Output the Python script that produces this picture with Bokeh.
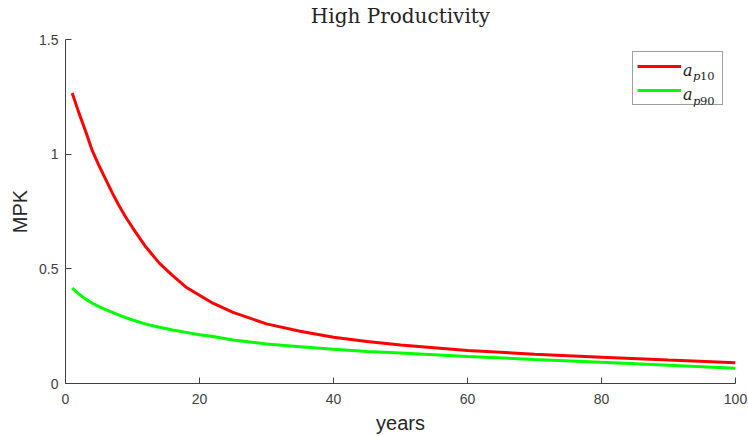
from bokeh.plotting import figure
from bokeh.models import Range1d, FixedTicker, Legend, LegendItem, Label, Title
from bokeh.embed import file_html
from bokeh.resources import INLINE

years = [1, 2, 3, 4, 5, 6, 7, 8, 9, 10, 12, 14, 16, 18, 20, 22, 25, 30, 35, 40,
         45, 50, 60, 70, 80, 90, 100]
mpk_p10 = [1.267, 1.18, 1.10, 1.015, 0.95, 0.89, 0.83, 0.775, 0.725, 0.68, 0.595,
           0.525, 0.47, 0.42, 0.385, 0.35, 0.31, 0.26, 0.228, 0.202,
           0.183, 0.168, 0.144, 0.128, 0.115, 0.102, 0.090]
mpk_p90 = [0.416, 0.39, 0.368, 0.35, 0.335, 0.322, 0.31, 0.298, 0.287, 0.277, 0.259,
           0.245, 0.233, 0.223, 0.213, 0.205, 0.19, 0.172, 0.16, 0.149,
           0.140, 0.133, 0.118, 0.105, 0.093, 0.080, 0.067]

x_ticks = [0, 20, 40, 60, 80, 100]
y_ticks = [0, 0.5, 1, 1.5]
y_tick_labels = ["0", "0.5", "1", "1.5"]
legend_subs = ["10", "90"]
title_text = "High Productivity"

AX = "#404040"

p = figure(width=748, height=436, output_backend="svg", toolbar_location=None,
           x_range=Range1d(0, 100), y_range=Range1d(0, 1.5),
           min_border_left=65, min_border_right=13, min_border_top=39,
           min_border_bottom=53)
p.outline_line_color = None
p.grid.visible = False
p.background_fill_color = "white"
p.border_fill_color = "white"
p.title.text = ""
p.title.standoff = 0

# spacer slot nearest the plot area (white text, so it takes up room)
p.add_layout(Title(text=".", text_font_size="1px", text_color="white",
                   standoff=9), "above")
# the visible title, stacked above the spacer
p.add_layout(Title(text=title_text, align="center", text_font="DejaVu Serif",
                   text_font_style="normal", text_font_size="20px",
                   text_color="#222222", standoff=0), "above")

for ax in (p.xaxis[0], p.yaxis[0]):
    ax.axis_line_color = AX
    ax.major_tick_line_color = AX
    ax.major_tick_in = 6
    ax.major_tick_out = 0
    ax.minor_tick_line_color = None
    ax.major_label_text_font = "Liberation Sans"
    ax.major_label_text_font_size = "14px"
    ax.major_label_text_color = AX
    ax.axis_label_text_font = "Liberation Sans"
    ax.axis_label_text_font_size = "20px"
    ax.axis_label_text_font_style = "normal"
    ax.axis_label_text_color = "#262626"

p.xaxis.ticker = FixedTicker(ticks=x_ticks)
p.yaxis.ticker = FixedTicker(ticks=y_ticks)
p.yaxis.major_label_overrides = {t: s for t, s in zip(y_ticks, y_tick_labels)}
p.xaxis.major_label_standoff = 10
p.yaxis.major_label_standoff = 7
p.xaxis.axis_label = "years"
p.yaxis.axis_label = "MPK"
p.xaxis.axis_label_standoff = 5
p.yaxis.axis_label_standoff = 5

r1 = p.line(years, mpk_p10, line_color="#ff0000", line_width=3)
r2 = p.line(years, mpk_p90, line_color="#00ff00", line_width=3)

legend = Legend(items=[LegendItem(label=" ", renderers=[r1]),
                       LegendItem(label="  ", renderers=[r2])],
                location="top_right", margin=12, padding=4, spacing=4,
                glyph_width=44, glyph_height=20, label_height=20,
                label_width=32, label_standoff=5,
                border_line_color=AX, border_line_width=1,
                background_fill_color="white", background_fill_alpha=0)
p.add_layout(legend)

# math-style legend labels: a_{p10}, a_{p90}
for row, sub in enumerate(legend_subs):
    dy = -30.7 - 24.3 * row
    p.add_layout(Label(x=100, y=1.5, x_offset=-52.5, y_offset=dy, text="a",
                       text_font="DejaVu Serif", text_font_style="italic",
                       text_font_size="16px", text_color="#222222",
                       text_baseline="alphabetic", level="overlay"))
    p.add_layout(Label(x=100, y=1.5, x_offset=-42.5, y_offset=dy - 6, text="p",
                       text_font="DejaVu Serif", text_font_style="italic",
                       text_font_size="11.5px", text_color="#222222",
                       text_baseline="alphabetic", level="overlay"))
    p.add_layout(Label(x=100, y=1.5, x_offset=-35.5, y_offset=dy - 6, text=sub,
                       text_font="DejaVu Serif", text_font_style="normal",
                       text_font_size="11.5px", text_color="#222222",
                       text_baseline="alphabetic", level="overlay"))

open("out.html", "w").write(file_html(p, INLINE))
